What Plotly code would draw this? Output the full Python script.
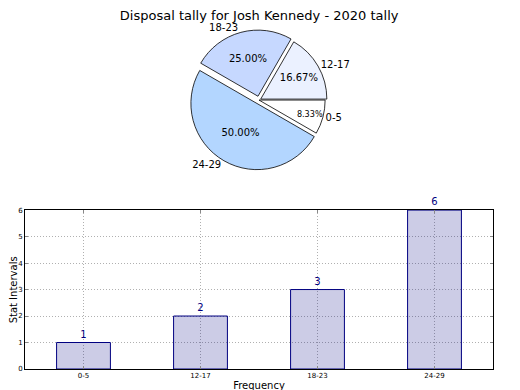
import plotly.graph_objects as go

categories = ["0-5", "12-17", "18-23", "24-29"]
counts = [1, 2, 3, 6]
pie_colors = ["#ffffff", "#ebf1ff", "#c6d8ff", "#b3d6ff"]
pulls = [0.0, 0.03, 0.06, 0.06]
title_text = "Disposal tally for Josh Kennedy - 2020 tally"
y_title = "Stat Intervals"
x_title = "Frequency"

FONT = "DejaVu Sans"

fig = go.Figure()

pie_domain = dict(x=[0.0, 1.0], y=[0.573, 0.977])

fig.add_trace(go.Pie(
    labels=categories, values=counts, sort=False, direction="counterclockwise",
    rotation=90, pull=pulls, domain=pie_domain, automargin=False,
    marker=dict(colors=pie_colors, line=dict(color="#000000", width=0.8)),
    texttemplate="%{percent:.2%}", textposition="inside", insidetextorientation="horizontal",
    textfont=dict(family=FONT, size=10, color="#000000"),
    showlegend=False, hoverinfo="label+percent",
))
fig.add_trace(go.Pie(
    labels=categories, values=counts, sort=False, direction="counterclockwise",
    rotation=90, pull=pulls, domain=pie_domain, automargin=False,
    marker=dict(colors=["rgba(0,0,0,0)"] * 4, line=dict(width=0)),
    texttemplate="%{label}", textposition="outside",
    outsidetextfont=dict(family=FONT, size=10, color="#000000"),
    showlegend=False, hoverinfo="skip",
))

fig.add_trace(go.Bar(
    x=categories, y=counts, width=0.46,
    marker=dict(color="rgba(0,0,128,0.2)", line=dict(color="#000080", width=1)),
    text=[str(v) for v in counts], textposition="outside", cliponaxis=False,
    textfont=dict(family=FONT, size=10, color="#000080"),
    showlegend=False, xaxis="x", yaxis="y",
))

grid_style = dict(showgrid=True, gridcolor="#b0b0b0", griddash="1px,2px", gridwidth=1)

fig.update_layout(
    width=520, height=390,
    margin=dict(l=17, r=35, t=14, b=29),
    paper_bgcolor="white", plot_bgcolor="white",
    font=dict(family=FONT, color="#000000"),
    title=dict(text=title_text, x=0.483, xanchor="center", y=0.993, yanchor="top",
               pad=dict(t=0, b=0), font=dict(family=FONT, size=13, color="#000000")),
    xaxis=dict(domain=[0, 1], anchor="y", range=[-0.5, 3.5], automargin=False,
               showline=True, linecolor="#000000", linewidth=1, mirror="ticks",
               ticks="inside", ticklen=3, tickcolor="#888888",
               tickfont=dict(family=FONT, size=7, color="#000000"),
               title=dict(text=x_title, font=dict(family=FONT, size=10), standoff=2),
               zeroline=False, **grid_style),
    yaxis=dict(domain=[0, 0.458], anchor="x", range=[0, 6], dtick=1, automargin=False,
               showline=True, linecolor="#000000", linewidth=1, mirror="ticks",
               ticks="inside", ticklen=3, tickcolor="#888888",
               tickfont=dict(family=FONT, size=7, color="#000000"),
               zeroline=False, **grid_style),
    annotations=[dict(text=y_title, xref="paper", yref="paper", x=-0.0246, y=0.228,
                      xanchor="center", yanchor="middle", textangle=-90, showarrow=False,
                      font=dict(family=FONT, size=10, color="#000000"))],
)

fig.write_html("out.html")
